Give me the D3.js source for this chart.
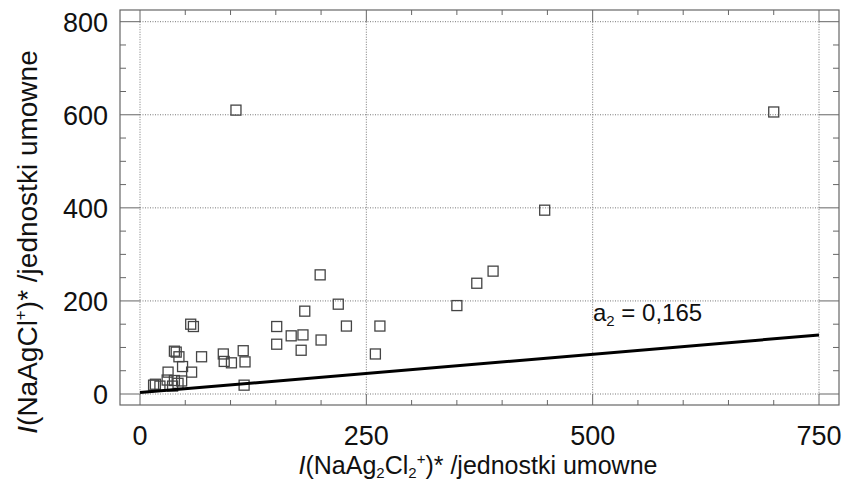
<!DOCTYPE html>
<html>
<head>
<meta charset="utf-8">
<style>
body { margin: 0; background: #fff; }
text { font-family: 'Liberation Sans', Arial, sans-serif; fill: #111; }
</style>
</head>
<body>
<svg width="845" height="482"></svg>
<script src="https://cdn.jsdelivr.net/npm/d3@7"></script>
<script>

// data
var pointsX = [106, 700, 447, 390, 372, 350, 199, 219, 182, 151, 228, 265, 167, 180, 151, 200, 178, 260,
               56, 59, 38, 40, 43, 68, 47, 57, 31, 92, 93, 101, 114, 116, 115, 15, 17, 30, 38, 46, 36, 22, 42];
var pointsY = [610, 606, 395, 264, 238, 190, 256, 193, 178, 145, 146, 146, 125, 127, 107, 116, 94, 86,
               150, 145, 92, 90, 80, 80, 59, 47, 47, 86, 70, 67, 93, 69, 19, 19, 21, 30, 29, 28, 17, 17, 23];
var xTicks = [0, 250, 500, 750];
var yTicks = [0, 200, 400, 600, 800];
var slope = 0.165, intercept = 3;
var lineX = [0, 750];

var svg = d3.select("svg");

var x = d3.scaleLinear().domain([0, 750]).range([140, 819]),
    y = d3.scaleLinear().domain([0, 800]).range([394, 21.7]);

// outer frame (a bit wider than the data area)
var fx0 = 120, fx1 = 839, fy0 = 10, fy1 = 405;

var grid = svg.append("g")
    .attr("stroke", "#777")
    .attr("stroke-width", 1)
    .attr("stroke-dasharray", "1,1.5");

grid.selectAll(".gx").data(xTicks).enter().append("line")
    .attr("x1", function(d) { return x(d); }).attr("x2", function(d) { return x(d); })
    .attr("y1", y(800)).attr("y2", y(0));
grid.selectAll(".gy").data(yTicks).enter().append("line")
    .attr("x1", x(0)).attr("x2", x(750))
    .attr("y1", function(d) { return y(d); }).attr("y2", function(d) { return y(d); });

var ticks = svg.append("g").attr("stroke", "#666").attr("stroke-width", 1);

// major ticks run from the frame to the first grid line
xTicks.forEach(function(d) {
  ticks.append("line").attr("x1", x(d)).attr("x2", x(d)).attr("y1", fy0).attr("y2", y(800));
  ticks.append("line").attr("x1", x(d)).attr("x2", x(d)).attr("y1", fy1).attr("y2", y(0));
});
yTicks.forEach(function(d) {
  ticks.append("line").attr("y1", y(d)).attr("y2", y(d)).attr("x1", fx0).attr("x2", x(0));
  ticks.append("line").attr("y1", y(d)).attr("y2", y(d)).attr("x1", fx1).attr("x2", x(750));
});

// minor ticks every 50
d3.range(50, 750, 50).filter(function(d) { return d % 250; }).forEach(function(d) {
  ticks.append("line").attr("x1", x(d)).attr("x2", x(d)).attr("y1", fy0).attr("y2", fy0 + 5);
  ticks.append("line").attr("x1", x(d)).attr("x2", x(d)).attr("y1", fy1).attr("y2", fy1 - 5);
});
d3.range(50, 800, 50).filter(function(d) { return d % 200; }).forEach(function(d) {
  ticks.append("line").attr("y1", y(d)).attr("y2", y(d)).attr("x1", fx0).attr("x2", fx0 + 6);
  ticks.append("line").attr("y1", y(d)).attr("y2", y(d)).attr("x1", fx1).attr("x2", fx1 - 6);
});

svg.append("rect")
    .attr("x", fx0).attr("y", fy0)
    .attr("width", fx1 - fx0).attr("height", fy1 - fy0)
    .attr("fill", "none").attr("stroke", "#666").attr("stroke-width", 1.2);

// tick labels
svg.selectAll(".xl").data(xTicks).enter().append("text")
    .attr("x", function(d) { return x(d); })
    .attr("y", 445)
    .attr("text-anchor", "middle")
    .attr("font-size", 27)
    .text(function(d) { return d; });

svg.selectAll(".yl").data(yTicks).enter().append("text")
    .attr("x", 108)
    .attr("y", function(d) { return y(d) + 10; })
    .attr("text-anchor", "end")
    .attr("font-size", 27)
    .text(function(d) { return d; });

// points
svg.append("g")
  .selectAll("rect")
    .data(d3.zip(pointsX, pointsY))
  .enter().append("rect")
    .attr("x", function(d) { return x(d[0]) - 5; })
    .attr("y", function(d) { return y(d[1]) - 5; })
    .attr("width", 10).attr("height", 10)
    .attr("fill", "none")
    .attr("stroke", "#444")
    .attr("stroke-width", 1.3);

// fitted line
svg.append("path")
    .datum(lineX)
    .attr("fill", "none")
    .attr("stroke", "#000")
    .attr("stroke-width", 3)
    .attr("d", d3.line()
      .x(function(d) { return x(d); })
      .y(function(d) { return y(slope * d + intercept); }));

var lbl = svg.append("text").attr("x", 593).attr("y", 321).attr("font-size", 24);
lbl.append("tspan").text("a");
lbl.append("tspan").attr("font-size", 15).attr("dy", 5).text("2");
lbl.append("tspan").attr("dy", -5).text(" = 0,165");

// axis titles
var xt = svg.append("text").attr("x", 478).attr("y", 474)
    .attr("text-anchor", "middle").attr("font-size", 25);
xt.append("tspan").attr("font-style", "italic").text("I");
xt.append("tspan").text("(NaAg");
xt.append("tspan").attr("font-size", 15).attr("dy", 4).text("2");
xt.append("tspan").attr("dy", -4).text("Cl");
xt.append("tspan").attr("font-size", 15).attr("dy", 4).text("2");
xt.append("tspan").attr("font-size", 15).attr("dy", -14).text("+");
xt.append("tspan").attr("dy", 10).text(")* /jednostki umowne");

var yt = svg.append("text")
    .attr("transform", "translate(37,242) rotate(-90)")
    .attr("text-anchor", "middle").attr("font-size", 28);
yt.append("tspan").attr("font-style", "italic").text("I");
yt.append("tspan").text("(NaAgCl");
yt.append("tspan").attr("font-size", 17).attr("dy", -11).text("+");
yt.append("tspan").attr("dy", 11).text(")* /jednostki umowne");

</script>
</body>
</html>
